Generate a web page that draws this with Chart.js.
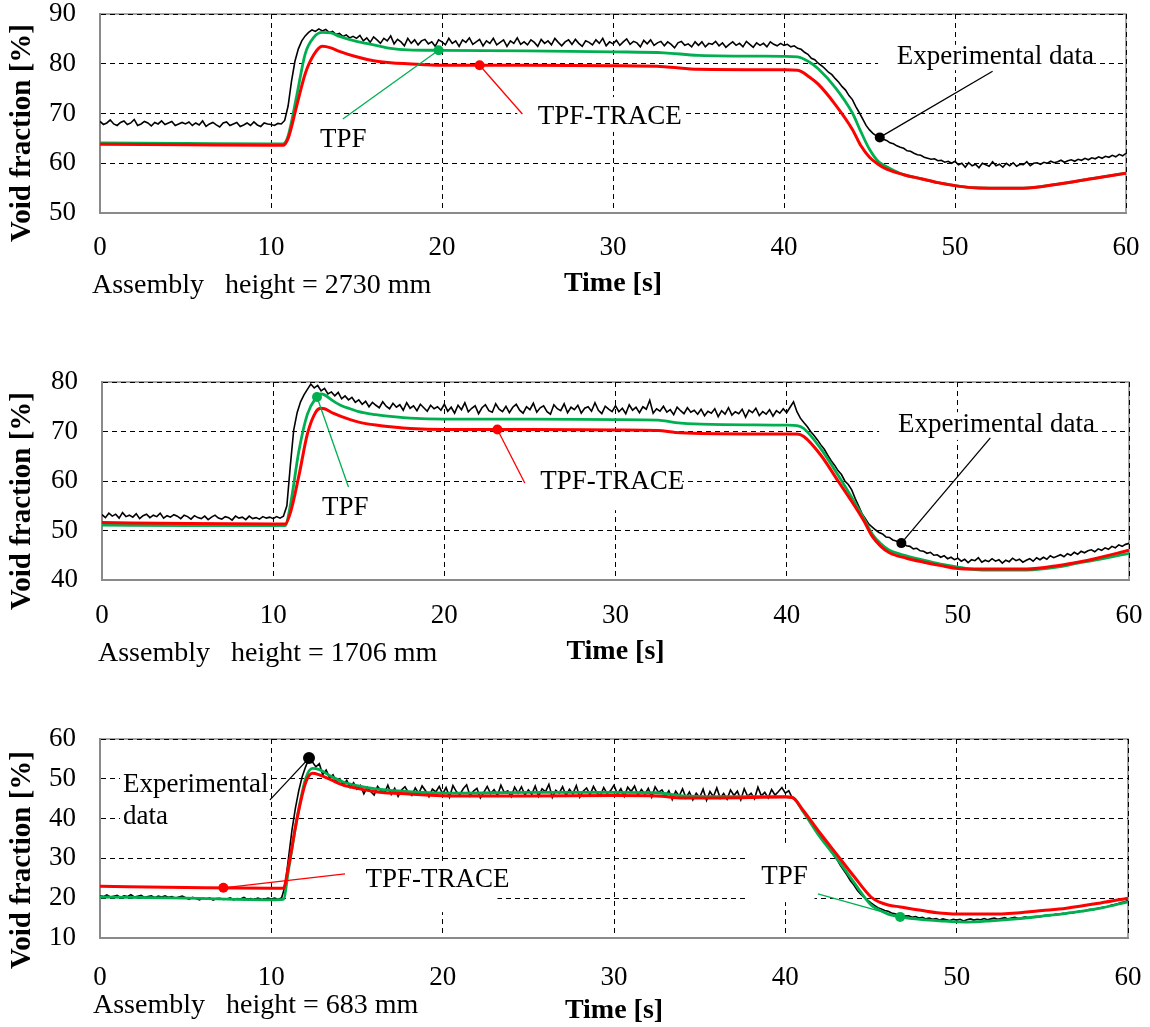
<!DOCTYPE html>
<html>
<head>
<meta charset="utf-8">
<title>Void fraction transients</title>
<script src="https://cdn.jsdelivr.net/npm/chart.js@4.4.1/dist/chart.umd.min.js"></script>
<style>
  html, body { margin: 0; padding: 0; background: #fff; overflow: hidden; width: 1150px; height: 1027px; }
  canvas { position: absolute; left: 0; }
</style>
</head>
<body>
<script>
// ---------------------------------------------------------------------------
// Measured void fraction (sampled every 0.2 s, 0 … 60 s) and the two model
// predictions (TPF, TPF-TRACE) at three assembly heights.
// ---------------------------------------------------------------------------
const expStep = 0.2;   // s between measured samples

// Assembly height = 2730 mm
const yRange2730 = [50, 90];
const exp2730 = [
  68.4, 67.8, 68.1, 68.7, 67.9, 67.6, 68.2, 68.5, 67.8, 68.1, 68.8, 67.6, 67.9, 68.4, 68.1, 67.5, 68.2, 67.9, 68.5, 67.8, 68.1, 68.4, 67.6, 67.9, 68.2,
  67.9, 68.3, 67.6, 68.1, 67.7, 68.5, 67.4, 67.9, 68.2, 67.7, 67.3, 68.1, 68.3, 67.6, 67.9, 68.2, 67.4, 67.7, 68.1, 67.6, 68.3, 67.7, 67.4, 68.1, 67.9,
  67.8, 67.6, 68.0, 67.9, 68.6, 71.5, 76.5, 80.5, 83.0, 84.6, 85.6, 86.3, 86.8, 86.5, 87.0, 86.6, 86.9, 86.3, 86.5, 85.9, 86.1, 85.5, 85.8, 85.2, 85.5,
  85.1, 85.7, 84.6, 85.2, 84.3, 85.4, 84.8, 84.1, 85.1, 84.6, 85.6, 84.0, 84.9, 84.4, 83.6, 85.1, 84.1, 84.8, 83.8, 84.6, 84.9, 84.0, 84.4, 83.5, 84.8,
  84.4, 83.8, 85.1, 84.1, 84.6, 83.5, 84.8, 84.3, 85.2, 83.9, 84.4, 84.9, 83.6, 84.6, 84.1, 85.1, 83.8, 84.3, 84.8, 83.5, 84.6, 84.1, 85.2, 83.9, 84.4,
  83.8, 84.8, 84.3, 83.5, 84.9, 84.1, 84.6, 83.8, 85.1, 84.3, 83.6, 84.4, 84.8, 83.9, 84.9, 84.1, 83.5, 84.6, 84.3, 83.8, 84.8, 84.1, 85.1, 83.6, 84.4,
  84.0, 84.7, 83.7, 84.4, 85.0, 83.9, 84.5, 84.2, 83.4, 84.7, 84.0, 84.8, 83.7, 84.2, 84.5, 83.6, 84.4, 83.9, 83.2, 84.2, 84.5, 83.7, 84.0, 83.4, 84.4,
  83.7, 84.4, 83.4, 84.1, 83.9, 84.5, 83.6, 84.2, 83.3, 83.9, 84.4, 83.7, 84.1, 83.4, 84.5, 83.9, 83.3, 84.2, 83.7, 84.1, 83.4, 84.4, 83.9, 83.6, 84.1,
  83.7, 83.9, 83.4, 83.6, 83.1, 82.9, 82.3, 81.9, 81.1, 80.8, 80.1, 79.6, 79.0, 78.3, 77.8, 77.0, 76.3, 75.4, 74.7, 73.6, 72.8, 71.4, 70.2, 68.9, 67.6,
  66.7, 66.0, 65.5, 65.2, 64.8, 64.6, 64.1, 63.9, 63.5, 63.2, 63.0, 62.5, 62.4, 62.0, 61.7, 61.6, 61.2, 61.0, 60.8, 60.9, 60.5, 60.6, 60.2, 60.4, 60.0,
  60.4, 59.7, 60.0, 59.2, 60.1, 59.5, 59.8, 59.1, 60.0, 59.7, 59.4, 60.3, 59.5, 59.8, 59.2, 60.0, 59.5, 60.1, 59.4, 59.8, 59.7, 60.3, 59.5, 60.0, 60.1,
  59.8, 60.2, 60.0, 60.4, 60.1, 60.3, 60.6, 60.2, 60.5, 60.7, 60.4, 60.8, 60.6, 61.0, 60.7, 61.1, 60.9, 61.3, 61.0, 61.4, 61.2, 61.6, 61.3, 61.8, 61.5,
  62.0
];
const modelTime2730 = [0, 5, 10, 10.7, 11, 11.5, 12, 12.5, 13, 13.5, 14, 15, 16, 17, 18, 20, 25, 30, 33, 35,
  40, 40.8, 41.5, 42, 43, 44, 44.5, 45, 45.5, 46, 47, 48, 49, 50, 51, 52, 54, 56, 58, 60];
const tpf2730 = [64.1, 64.0, 63.9, 63.9, 65.5, 73.5, 82.0, 85.3, 86.3, 86.2, 85.5, 84.5, 83.8, 83.1, 82.8, 82.7, 82.6, 82.4, 82.2, 81.7,
  81.5, 81.4, 80.3, 79.0, 75.2, 70.1, 66.3, 62.8, 60.4, 59.3, 57.7, 56.9, 56.1, 55.5, 55.1, 55.0, 55.0, 55.8, 56.9, 58.0];
const trace2730 = [63.8, 63.7, 63.6, 63.6, 65.0, 71.5, 78.0, 81.8, 83.5, 83.2, 82.5, 81.4, 80.6, 80.2, 80.0, 79.7, 79.7, 79.6, 79.4, 78.9,
  78.8, 78.7, 77.3, 75.9, 71.8, 66.8, 63.5, 61.2, 59.8, 58.8, 57.7, 56.9, 56.1, 55.5, 55.1, 55.0, 55.0, 55.8, 56.9, 58.0];

// Assembly height = 1706 mm
const yRange1706 = [40, 80];
const exp1706 = [
  53.2, 52.6, 53.5, 52.9, 53.3, 52.5, 53.6, 52.8, 53.1, 52.7, 53.4, 52.4, 53.0, 53.3, 52.6, 53.1, 52.8, 53.5, 52.5, 53.0, 52.7, 53.2, 52.9, 52.4, 53.1,
  52.8, 52.3, 53.0, 52.6, 52.4, 52.9, 52.2, 52.7, 53.1, 52.5, 52.3, 52.8, 52.6, 52.1, 52.9, 52.5, 52.7, 52.2, 52.9, 52.4, 52.6, 52.3, 52.8, 52.5, 52.7,
  52.4, 52.8, 52.5, 52.9, 55.0, 63.0, 70.3, 73.8, 76.0, 77.4, 78.5, 79.6, 78.8, 79.3, 78.2, 78.7, 77.6, 78.0, 77.2, 77.9, 76.6, 77.2, 76.4, 76.9, 75.9,
  76.4, 75.5, 76.1, 75.0, 75.9, 75.3, 74.8, 76.0, 75.1, 74.6, 75.7, 74.9, 75.4, 74.3, 75.8, 74.7, 75.2, 74.2, 75.5, 74.8, 74.1, 75.3, 74.6, 75.0, 74.3,
  75.5, 74.1, 74.9, 73.7, 75.3, 74.4, 75.8, 74.0, 74.7, 75.2, 73.6, 74.8, 75.4, 74.2, 73.9, 75.6, 74.5, 74.0, 75.1, 73.8, 74.9, 75.5, 74.3, 73.7, 75.0,
  74.4, 75.7, 73.9, 74.8, 75.2, 74.0, 73.5, 75.4, 74.6, 74.2, 75.6, 73.8, 74.9, 74.4, 75.3, 73.7, 74.7, 75.0, 74.1, 75.8, 74.3, 73.6, 75.1, 74.5, 74.0,
  75.2, 74.0, 74.7, 73.6, 75.4, 74.3, 74.9, 73.8, 75.0, 74.5, 76.3, 73.7, 74.6, 74.1, 75.1, 73.9, 74.4, 73.4, 74.9, 74.2, 73.6, 74.8, 73.9, 74.3, 73.5,
  74.5, 73.2, 74.1, 73.7, 74.6, 73.0, 74.2, 73.5, 74.8, 73.3, 74.0, 73.6, 74.5, 72.9, 74.3, 73.8, 74.7, 73.2, 74.0, 73.5, 74.4, 73.1, 74.2, 73.7, 74.6,
  73.8, 74.9, 76.0, 74.0, 72.7, 71.8, 71.0, 70.0, 69.2, 68.3, 67.3, 66.4, 65.2, 64.1, 63.2, 62.1, 61.3, 60.0, 59.3, 58.2, 56.5, 55.0, 53.4, 52.4, 51.3,
  50.7, 50.1, 49.6, 49.3, 48.7, 48.6, 48.1, 47.9, 47.4, 47.5, 46.9, 46.8, 46.3, 46.4, 45.9, 45.8, 45.4, 45.6, 45.0, 45.1, 44.6, 44.9, 44.3, 44.6, 44.1,
  44.4, 43.8, 44.2, 43.5, 44.1, 43.9, 44.5, 43.6, 44.0, 43.7, 44.3, 43.8, 44.1, 43.4, 44.0, 43.7, 44.4, 43.9, 44.2, 43.6, 44.0, 44.3, 43.8, 44.5, 44.1,
  44.6, 44.2, 44.9, 44.5, 44.8, 45.1, 44.7, 45.3, 45.0, 45.6, 45.2, 45.8, 45.5, 45.9, 46.1, 45.7, 46.3, 46.0, 46.5, 46.2, 46.8, 46.5, 47.1, 46.8, 47.2,
  47.4
];
const modelTime1706 = [0, 5, 10, 10.7, 11, 11.5, 12, 12.5, 12.8, 13, 13.5, 14, 14.5, 15, 16, 17, 18, 20, 25, 30, 32.5, 33.5,
  35, 40, 40.6, 41, 42, 43, 44, 44.5, 45, 45.5, 46, 47, 48, 49, 50, 51, 52, 54, 56, 57, 58, 60];
const tpf1706 = [51.1, 51.0, 51.0, 51.0, 55.0, 66.0, 73.5, 76.8, 77.6, 77.4, 76.2, 75.2, 74.6, 74.0, 73.4, 73.0, 72.7, 72.5, 72.5, 72.4, 72.3, 71.8,
  71.5, 71.3, 71.2, 70.6, 66.5, 61.2, 55.5, 52.5, 49.3, 47.3, 46.0, 44.9, 44.0, 43.2, 42.6, 42.1, 42.0, 42.0, 42.7, 43.4, 44.0, 45.4];
const trace1706 = [51.6, 51.4, 51.3, 51.3, 53.5, 61.0, 69.5, 74.0, 74.7, 74.6, 73.7, 73.0, 72.4, 71.9, 71.3, 70.9, 70.6, 70.4, 70.4, 70.3, 70.2, 69.8,
  69.6, 69.5, 69.5, 69.0, 65.2, 60.0, 54.8, 52.0, 48.8, 46.8, 45.5, 44.4, 43.6, 42.9, 42.3, 42.2, 42.2, 42.2, 43.0, 43.6, 44.3, 46.0];

// Assembly height = 683 mm
const yRange683 = [10, 60];
const exp683 = [
  20.6, 20.4, 20.8, 20.3, 20.5, 20.7, 20.2, 20.6, 20.4, 20.9, 20.3, 20.5, 20.7, 20.2, 20.4, 20.6, 20.1, 20.5, 20.3, 20.6, 20.2, 20.4, 20.0, 20.3, 20.5,
  20.1, 19.7, 20.2, 19.9, 19.6, 20.0, 19.8, 20.1, 19.5, 19.9, 20.0, 19.7, 19.8, 20.1, 19.6, 19.9, 19.8, 20.2, 19.7, 19.9, 19.6, 20.0, 19.8, 19.7, 20.0,
  19.8, 20.0, 19.7, 20.1, 23.0, 30.0, 37.0, 42.5, 47.0, 50.5, 53.0, 55.2, 54.2, 53.0, 53.8, 51.0, 52.2, 50.3, 51.0, 49.2, 50.0, 48.4, 49.6, 47.8, 49.0,
  47.4, 48.3, 46.2, 47.9, 46.8, 45.9, 48.1, 47.0, 46.4, 48.4, 46.1, 47.6, 45.6, 47.2, 48.0, 46.6, 45.8, 47.7, 46.3, 48.2, 47.0, 45.5, 47.4, 46.7, 48.1,
  46.2, 47.8, 45.4, 48.3, 46.8, 46.0, 47.5, 48.5, 45.7, 46.9, 47.6, 45.2, 46.6, 48.1, 46.3, 47.3, 45.8, 48.4, 46.5, 47.0, 45.5, 47.9, 46.4, 48.0, 45.9,
  47.2, 46.1, 48.2, 45.6, 47.5, 46.7, 48.6, 45.3, 47.1, 46.4, 48.0, 45.8, 47.4, 46.2, 48.3, 45.4, 46.9, 47.7, 46.0, 48.1, 46.5, 45.7, 47.8, 46.3, 47.0,
  48.4, 46.2, 47.5, 45.6, 47.9, 46.8, 48.2, 45.9, 47.3, 46.1, 47.6, 45.4, 48.0, 46.6, 47.2, 45.7, 47.0, 44.8, 46.9, 45.6, 47.5, 45.2, 46.7, 44.7, 46.4,
  45.3, 47.4, 44.6, 46.8, 45.5, 47.7, 45.1, 46.3, 44.9, 47.2, 45.8, 46.9, 44.7, 47.5, 45.6, 46.4, 45.0, 47.9, 45.7, 46.6, 45.2, 47.3, 45.9, 46.8, 47.8,
  46.4, 47.0, 45.2, 44.6, 43.4, 42.3, 41.0, 39.8, 38.3, 37.2, 35.8, 34.9, 33.3, 32.2, 30.9, 29.8, 28.3, 27.1, 25.8, 24.4, 23.3, 22.0, 21.0, 20.2, 19.5,
  18.8, 18.2, 17.6, 17.3, 16.9, 16.7, 16.3, 16.1, 15.8, 15.9, 15.5, 15.6, 15.2, 15.4, 15.0, 15.2, 14.8, 15.0, 14.7, 14.9, 14.5, 14.8, 14.6, 14.4, 14.7,
  14.5, 14.7, 14.3, 14.6, 14.8, 14.5, 14.7, 14.6, 14.9, 14.6, 14.8, 15.0, 14.7, 14.9, 15.1, 14.8, 15.0, 15.2, 14.9, 15.1, 15.3, 15.0, 15.2, 15.4, 15.3,
  15.5, 15.7, 15.6, 15.8, 16.0, 15.9, 16.2, 16.1, 16.4, 16.3, 16.6, 16.8, 16.7, 17.0, 17.2, 17.1, 17.4, 17.6, 17.8, 17.9, 18.2, 18.4, 18.6, 18.9, 19.1,
  19.4
];
const modelTime683 = [0, 5, 10, 10.7, 11, 11.5, 12, 12.4, 12.8, 13.5, 14.2, 15, 16.2, 18, 21, 25, 30, 32.5, 34, 36,
  40, 40.4, 41, 42, 43, 44, 45, 45.5, 46, 46.7, 48, 49, 50.6, 52, 53.5, 55, 56.4, 58.4, 60];
const tpf683 = [20.3, 20.0, 19.6, 19.7, 27.0, 40.0, 50.0, 52.6, 52.3, 50.6, 49.2, 48.3, 47.4, 46.8, 46.4, 46.6, 46.6, 46.5, 45.7, 45.5,
  45.5, 45.4, 42.0, 35.5, 30.0, 24.0, 18.3, 17.0, 16.0, 15.3, 14.6, 14.3, 14.0, 14.3, 14.8, 15.5, 16.2, 17.5, 19.1];
const trace683 = [23.0, 22.7, 22.5, 22.5, 28.0, 40.0, 49.0, 51.4, 51.0, 49.7, 48.4, 47.6, 46.7, 46.2, 45.7, 45.7, 45.8, 45.7, 45.2, 45.2,
  45.4, 45.3, 42.3, 36.5, 31.0, 25.5, 20.3, 19.0, 18.3, 17.8, 16.9, 16.3, 16.0, 16.0, 16.3, 16.9, 17.5, 18.8, 20.0];

const timeRange = [0, 60];
const timeStep = 10;

// ---------------------------------------------------------------------------
// Styling
// ---------------------------------------------------------------------------
const SERIF = "'Liberation Serif', 'Times New Roman', serif";
const GREEN = '#00b050';
const RED = '#ff0000';
const BLACK = '#000000';
const FRAME = '#8a8a8a';

// Call-out labels: text anchor, leader start and the time at which the leader
// meets its curve (all in axis units: seconds / percent).
const notes2730 = [
  { lines: ['TPF'], tx: 12.87, ty: 64.7, ax: 14.2, ay: 68.9, key: 'tpf', t: 19.8, color: GREEN },
  { lines: ['TPF-TRACE'], tx: 25.6, ty: 69.3, box: [24.4, 73.3, 34.1, 66.3], ax: 24.7, ay: 69.9, key: 'trace', t: 22.2, color: RED },
  { lines: ['Experimental data'], tx: 46.6, ty: 81.4, box: [45.5, 83.8, 58.1, 78.7], ax: 52.2, ay: 78.5, key: 'exp', t: 45.6, color: BLACK }
];
const notes1706 = [
  { lines: ['TPF'], tx: 12.85, ty: 54.5, box: [12.0, 58.6, 16.7, 50.1], ax: 14.4, ay: 58.8, key: 'tpf', t: 12.56, color: GREEN },
  { lines: ['TPF-TRACE'], tx: 25.6, ty: 59.8, box: [24.6, 62.8, 33.9, 54.1], ax: 24.7, ay: 59.6, key: 'trace', t: 23.1, color: RED },
  { lines: ['Experimental data'], tx: 46.5, ty: 71.3, box: [45.4, 73.9, 57.9, 68.3], ax: 51.9, ay: 68.7, key: 'exp', t: 46.7, color: BLACK }
];
const notes683 = [
  { lines: ['Experimental', 'data'], tx: 1.34, ty: 48.4, box: [1.17, 52.7, 9.8, 36.6], ax: 9.92, ay: 44.7, key: 'exp', t: 12.2, color: BLACK, r: 6 },
  { lines: ['TPF-TRACE'], tx: 15.5, ty: 24.6, box: [14.6, 29.1, 23.2, 16.5], ax: 14.3, ay: 26.1, key: 'trace', t: 7.2, color: RED },
  { lines: ['TPF'], tx: 38.6, ty: 25.3, box: [37.8, 33.9, 41.7, 19.0], ax: 41.9, ay: 21.1, key: 'tpf', t: 46.7, color: GREEN }
];

// Placement of the three stacked panels on the page (canvas-local pixels)
const panels = [
  { top: -4, height: 324, left: 100, right: 1126, areaTop: 18, areaBottom: 217, titlePad: 19, tickPad: 21.5,
    yRange: yRange2730, exp: exp2730, time: modelTime2730, tpf: tpf2730, trace: trace2730,
    caption: 'Assembly   height = 2730 mm', capX: 92, capY: 297, yTitleY: 137, notes: notes2730 },
  { top: 340, height: 340, left: 102, right: 1129, areaTop: 42, areaBottom: 240, titlePad: 11, tickPad: 22.5,
    yRange: yRange1706, exp: exp1706, time: modelTime1706, tpf: tpf1706, trace: trace1706,
    caption: 'Assembly   height = 1706 mm', capX: 98, capY: 321, yTitleY: 161, notes: notes1706 },
  { top: 690, height: 340, left: 100, right: 1128, areaTop: 49, areaBottom: 248, titlePad: 2, tickPad: 26,
    yRange: yRange683, exp: exp683, time: modelTime683, tpf: tpf683, trace: trace683,
    caption: 'Assembly   height = 683 mm', capX: 93, capY: 323, yTitleY: 170, notes: notes683 }
];

// ---------------------------------------------------------------------------
function valueAt(points, t) {
  if (t <= points[0].x) return points[0].y;
  for (let i = 1; i < points.length; i++) {
    if (points[i].x >= t) {
      const a = points[i - 1], b = points[i];
      return a.y + (b.y - a.y) * (t - a.x) / (b.x - a.x);
    }
  }
  return points[points.length - 1].y;
}

// Tick labels may overhang the plot frame; the frame itself stays where the
// layout padding puts it.
function noOverhang(scale) {
  scale.paddingLeft = 0;
  scale.paddingRight = 0;
  scale.paddingTop = 0;
  scale.paddingBottom = 0;
}

const calloutPlugin = {
  id: 'callouts',
  beforeDraw(chart) {
    const { ctx, chartArea: a } = chart;
    ctx.save();
    ctx.fillStyle = '#fff';
    ctx.fillRect(0, 0, chart.width, chart.height);
    ctx.strokeStyle = FRAME;
    ctx.lineWidth = 1.5;
    ctx.strokeRect(a.left, a.top, a.right - a.left, a.bottom - a.top);
    ctx.restore();
  },
  beforeDatasetsDraw(chart, args, opts) {
    const { ctx } = chart;
    const xs = chart.scales.x, ys = chart.scales.y;
    ctx.save();
    ctx.fillStyle = '#fff';
    for (const n of opts.notes) {
      if (!n.box) continue;
      const x0 = xs.getPixelForValue(n.box[0]), y0 = ys.getPixelForValue(n.box[1]);
      const x1 = xs.getPixelForValue(n.box[2]), y1 = ys.getPixelForValue(n.box[3]);
      ctx.fillRect(x0, y0, x1 - x0, y1 - y0);
    }
    ctx.restore();
  },
  afterDatasetsDraw(chart, args, opts) {
    const { ctx } = chart;
    const xs = chart.scales.x, ys = chart.scales.y;
    ctx.save();
    for (const n of opts.notes) {
      const ds = chart.data.datasets.find(d => d.key === n.key);
      const px = xs.getPixelForValue(n.t);
      const py = ys.getPixelForValue(valueAt(ds.data, n.t));
      ctx.strokeStyle = n.color;
      ctx.lineWidth = 1.3;
      ctx.beginPath();
      ctx.moveTo(xs.getPixelForValue(n.ax), ys.getPixelForValue(n.ay));
      ctx.lineTo(px, py);
      ctx.stroke();
      ctx.fillStyle = n.color;
      ctx.beginPath();
      ctx.arc(px, py, n.r || 5, 0, Math.PI * 2);
      ctx.fill();
      ctx.fillStyle = '#000';
      ctx.font = '27px ' + SERIF;
      ctx.textAlign = 'left';
      ctx.textBaseline = 'middle';
      const tx = xs.getPixelForValue(n.tx), ty = ys.getPixelForValue(n.ty);
      n.lines.forEach((s, i) => ctx.fillText(s, tx, ty + i * 32));
    }
    ctx.restore();
  },
  afterDraw(chart, args, opts) {
    const { ctx } = chart;
    ctx.save();
    ctx.fillStyle = '#000';
    // y-axis title
    ctx.translate(23, opts.yTitleY);
    ctx.rotate(-Math.PI / 2);
    ctx.font = 'bold 29px ' + SERIF;
    ctx.textAlign = 'center';
    ctx.textBaseline = 'middle';
    ctx.fillText('Void fraction [%]', 0, 0);
    ctx.restore();
    // measuring position caption
    ctx.save();
    ctx.fillStyle = '#000';
    ctx.font = '28px ' + SERIF;
    ctx.textAlign = 'left';
    ctx.textBaseline = 'alphabetic';
    ctx.fillText(opts.caption, opts.capX, opts.capY);
    ctx.restore();
  }
};

panels.forEach(p => {
  const canvas = document.createElement('canvas');
  canvas.width = 1150;
  canvas.height = p.height;
  canvas.style.top = p.top + 'px';
  canvas.style.width = '1150px';
  canvas.style.height = p.height + 'px';
  document.body.appendChild(canvas);

  const expPoints = p.exp.map((v, i) => ({ x: Math.round(i * expStep * 100) / 100, y: v }));
  const tpfPoints = p.time.map((t, i) => ({ x: t, y: p.tpf[i] }));
  const tracePoints = p.time.map((t, i) => ({ x: t, y: p.trace[i] }));
  const [yMin, yMax] = p.yRange;
  const axisH = p.height - p.areaBottom;

  new Chart(canvas, {
    type: 'line',
    data: {
      datasets: [
        { key: 'trace', label: 'TPF-TRACE', data: tracePoints, borderColor: RED, borderWidth: 3,
          pointRadius: 0, cubicInterpolationMode: 'monotone' },
        { key: 'tpf', label: 'TPF', data: tpfPoints, borderColor: GREEN, borderWidth: 2.8,
          pointRadius: 0, cubicInterpolationMode: 'monotone' },
        { key: 'exp', label: 'Experimental data', data: expPoints, borderColor: BLACK, borderWidth: 1.6,
          pointRadius: 0, tension: 0 }
      ]
    },
    options: {
      responsive: false,
      animation: false,
      devicePixelRatio: 1,
      events: [],
      layout: { padding: { top: p.areaTop, right: 1150 - p.right, left: 0, bottom: 0 } },
      plugins: {
        legend: { display: false },
        tooltip: { enabled: false },
        callouts: { notes: p.notes, caption: p.caption, capX: p.capX, capY: p.capY, yTitleY: p.yTitleY }
      },
      scales: {
        x: {
          type: 'linear',
          min: timeRange[0], max: timeRange[1],
          afterFit: s => { s.height = axisH; noOverhang(s); },
          ticks: { stepSize: timeStep, maxRotation: 0, padding: p.tickPad, color: '#000',
                   font: { family: SERIF, size: 27, lineHeight: 1 } },
          grid: { drawTicks: false, lineWidth: 1, borderDash: [5, 4],
                  color: c => (c.tick && c.tick.value === timeRange[0]) ? 'rgba(0,0,0,0)' : '#000' },
          border: { display: true, color: FRAME, width: 2, dash: [5, 4] },
          title: { display: true, text: 'Time [s]', color: '#000',
                   font: { family: SERIF, size: 28, weight: 'bold' }, padding: { top: 0, bottom: p.titlePad } }
        },
        y: {
          min: yMin, max: yMax,
          afterFit: s => { s.width = p.left; noOverhang(s); },
          ticks: { stepSize: 10, padding: 24, color: '#000',
                   font: { family: SERIF, size: 27, lineHeight: 1 } },
          grid: { drawTicks: false, lineWidth: 1, borderDash: [5, 4],
                  color: c => (c.tick && c.tick.value === yMin) ? 'rgba(0,0,0,0)' : '#000' },
          border: { display: true, color: FRAME, width: 2, dash: [5, 4] }
        }
      }
    },
    plugins: [calloutPlugin]
  });
});
</script>
</body>
</html>
